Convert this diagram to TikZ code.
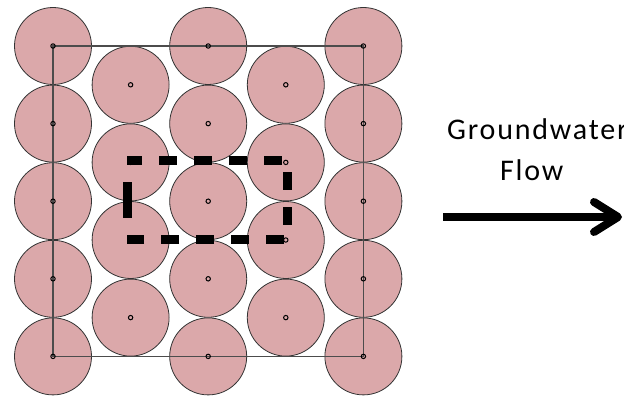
\documentclass[tikz,border=0pt]{standalone}
\usepackage{fontspec}
\setmainfont{Carlito}
\usetikzlibrary{arrows.meta,calc}
\definecolor{grainpink}{RGB}{219,168,170}
\tikzset{grain/.style={circle, draw=black!80, fill=grainpink, line width=0.8pt, minimum size=77pt, inner sep=0pt},
         grainmark/.style={black, line width=1pt},
         cellbox/.style={black!70, line width=1.1pt},
         dashbox/.style={black, line width=9pt, dash pattern=on 18pt off 17pt, dash phase=3pt},
         flowtext/.style={font=\fontsize{30}{36}\selectfont\addfontfeatures{LetterSpace=6}, anchor=base west, inner sep=0pt},
         flowarrow/.style={black, line width=8pt, -{Straight Barb[length=24pt,width=30pt,line cap=round,line join=round]}}}

\begin{document}
\begin{tikzpicture}[x=1pt,y=-1pt]
  \useasboundingbox (0,0) rectangle (624,396);
  % grains, outer columns have five, inner columns four
  \foreach \i in {0,2,4} \foreach \j in {0,...,4}
    \node[grain] (g-\i-\j) at (53+77.6*\i, 46+77.6*\j) {};
  \foreach \i in {1,3} \foreach \j in {0,...,3}
    \node[grain] (g-\i-\j) at (53+77.6*\i, 84.8+77.6*\j) {};
  % unit cell
  \draw[cellbox] (g-0-0.center) -- (g-4-0.center) -- (g-4-4.center) -- (g-0-4.center) -- cycle;
  \foreach \i in {0,2,4} \foreach \j in {0,...,4}
    \draw[grainmark] (g-\i-\j.center) circle[radius=2.2pt];
  \foreach \i in {1,3} \foreach \j in {0,...,3}
    \draw[grainmark] (g-\i-\j.center) circle[radius=2.2pt];
  % dashed control box
  \coordinate (tl) at ([shift={(-3.6,-2.4)}]g-1-1.center);
  \coordinate (tr) at ([shift={(1.2,-2.4)}]g-3-1.center);
  \coordinate (br) at ([shift={(1.2,-1)}]g-3-2.center);
  \coordinate (bl) at ([shift={(-3.6,-1)}]g-1-2.center);
  \draw[dashbox] (tl) -- (tr) -- (br) -- (bl);
  \draw[black, line width=9pt] ($(tl)!0.28!(bl)$) -- ($(tl)!0.74!(bl)$);
  % flow direction
  \node[flowtext] (gw) at (447,139) {Groundwater};
  \node[flowtext] (fl) at (500,180) {Flow};
  \coordinate (flowstart) at (443,217);
  \coordinate (flowend) at (622,217);
  \draw[flowarrow] (flowstart) -- (flowend);
\end{tikzpicture}
\end{document}
